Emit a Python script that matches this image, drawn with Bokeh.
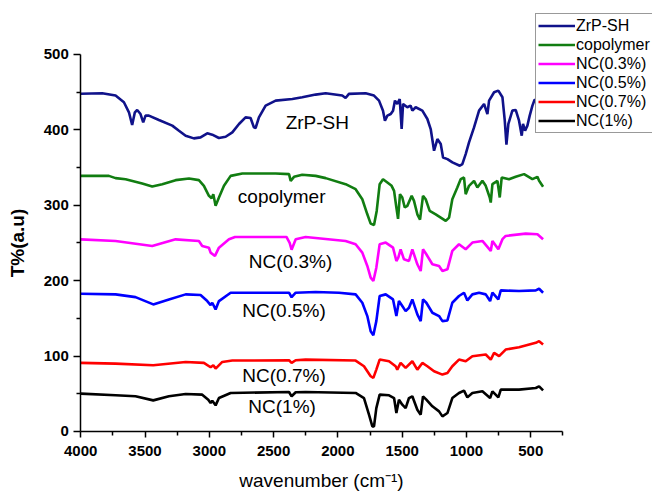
from bokeh.plotting import figure
from bokeh.models import Range1d, FixedTicker, Legend, LegendItem, ColumnDataSource
from bokeh.core.properties import value
from bokeh.embed import file_html
from bokeh.resources import INLINE

# ---------------- data ----------------
zrp_x = [4000, 3833, 3729, 3664, 3625, 3600, 3579, 3561, 3535, 3514, 3496, 3470, 3392, 3288, 3236,
         3184, 3120, 3068, 3016, 2977, 2925, 2873, 2821, 2769, 2718, 2679, 2653, 2640, 2614, 2562,
         2484, 2354, 2277, 2173, 2095, 1966, 1940, 1914, 1784, 1719, 1680, 1649, 1634, 1615, 1589,
         1571, 1556, 1538, 1519, 1504, 1493, 1460, 1434, 1421, 1395, 1343, 1304, 1278, 1252, 1226,
         1200, 1182, 1148, 1109, 1052, 1032, 1006, 980, 941, 902, 863, 837, 824, 785, 752, 720, 702,
         689, 674, 643, 617, 591, 570, 560, 544, 526, 508, 487, 470, 440, 400]
zrp_y = [448, 448.6, 445.5, 436.6, 423.3, 406.4, 423.3, 426.4, 421, 410, 418.9, 418.9, 413.1, 405.6, 398.9,
         392.3, 388.7, 390, 395.4, 393.6, 389.2, 390.9, 396.7, 407.8, 416.6, 415.8, 403.3, 402.5, 416.6, 432.2,
         438.8, 441, 443.2, 446.8, 448.6, 445.5, 442.3, 447.7, 448.6, 445.5, 438.8, 425.5, 412.2, 418.9, 421,
         425.5, 438.8, 434.4, 441, 401.1, 434.4, 430, 432.2, 425.5, 430, 425.5, 414.4, 401.1, 372.3, 387.8,
         381.2, 363.4, 361.2, 356.8, 352.4, 354.6, 367.9, 383.4, 403.3, 425.5, 434.4, 421, 438.8, 449.9, 452.1, 443.2, 412.2,
         380.3, 407.8, 425.5, 426.4, 412.2, 392.3, 407.8, 398.9, 405.6, 418.9, 432.2, 440, 438, 430]

cop_x = [4000, 3781, 3729, 3651, 3522, 3444, 3366, 3262, 3158, 3081, 3042, 3003, 2982, 2969, 2951,
         2925, 2886, 2834, 2743, 2484, 2380, 2367, 2341, 2277, 2173, 2095, 1940, 1862, 1810, 1771,
         1745, 1719, 1698, 1675, 1649, 1615, 1582, 1563, 1545, 1532, 1517, 1499, 1480, 1460, 1426,
         1408, 1382, 1361, 1338, 1317, 1286, 1239, 1200, 1161, 1135, 1110, 1071, 1045, 1019, 1006,
         980, 941, 915, 876, 850, 819, 811, 798, 759, 741, 726, 669, 617, 552, 487, 448, 435, 404]
cop_y = [339, 339, 336, 334.6, 328.9, 324.9, 328, 333.3, 335.5, 333.3, 325.8, 312.5, 309.4, 314.7, 299.2,
         310.3, 325.8, 339, 342.2, 342.2, 341.3, 332.4, 337.7, 340.4, 339, 336, 328, 321.3, 308, 288,
         275.7, 273.9, 292.5, 328, 334.6, 330.2, 325.8, 319.1, 297, 282, 314.7, 310.3, 297, 299.2, 312.5,
         305.8, 288, 281, 312.5, 308, 292.5, 288, 283.7, 279.2, 283.7, 308, 323.5, 334.6, 336.8, 314.7,
         325.8, 332.4, 323.5, 332.4, 325.8, 310.3, 303.6, 328, 332.4, 310.3, 336.8, 334.6, 337.7, 341.3, 334.6, 337.7, 332.4, 324.5]

nc03_x = [4000, 3729, 3444, 3262, 3081, 3055, 3003, 2990, 2956, 2925, 2847, 2800, 2400, 2375, 2360,
          2328, 2251, 1940, 1862, 1810, 1771, 1745, 1724, 1701, 1675, 1628, 1571, 1545, 1530, 1512,
          1486, 1447, 1421, 1382, 1356, 1338, 1312, 1265, 1213, 1187, 1148, 1110, 1058, 1006, 954,
          876, 811, 798, 752, 720, 695, 539, 448, 404]
nc03_y = [254.8, 252.6, 246, 254.8, 252.6, 246, 243.7, 237.2, 232.8, 243.8, 255, 258, 258, 250, 241,
          255, 258, 252.6, 248.3, 237.2, 219.5, 204, 199.5, 217.2, 248.3, 250.5, 243.8, 226.1, 230.5, 241.6,
          228.3, 226.1, 241.6, 221.7, 212.8, 241.6, 235, 221.7, 219.5, 212.8, 215, 239.4, 248.3, 241.6, 250.5,
          252.7, 239.4, 252.7, 241.6, 255, 259.3, 262.4, 261.5, 254.8]

nc05_x = [4000, 3729, 3574, 3436, 3314, 3184, 3068, 3016, 2990, 2977, 2951, 2925, 2834, 2380, 2360,
          2328, 2173, 1991, 1862, 1810, 1771, 1745, 1724, 1701, 1675, 1628, 1571, 1545, 1525, 1499,
          1473, 1447, 1421, 1382, 1356, 1338, 1312, 1265, 1213, 1187, 1148, 1110, 1058, 1019, 993,
          954, 902, 850, 816, 798, 752, 733, 591, 461, 435, 404]
nc05_y = [182.7, 181.8, 178.2, 168.5, 175.1, 181.8, 180.9, 172.9, 167.6, 170.7, 161.8, 172.9, 184, 184, 178,
          184, 184.9, 184, 181.8, 170.7, 153, 133, 127.7, 146.3, 179.6, 181.8, 175.1, 153, 172.9, 166.3,
          159.6, 164, 175.1, 155.2, 146.3, 175.1, 170.7, 157.4, 153, 146.3, 147.2, 170.7, 179.6, 184, 173.8,
          181.8, 184, 181.8, 172.9, 184, 175.1, 187.1, 186.2, 187.1, 189.3, 184]

nc07_x = [4000, 3729, 3436, 3184, 3042, 2990, 2969, 2951, 2899, 2821, 2380, 2360, 2328, 2251, 1862,
          1797, 1745, 1724, 1701, 1675, 1602, 1551, 1538, 1512, 1473, 1421, 1382, 1343, 1304, 1252,
          1187, 1148, 1110, 1058, 1006, 954, 850, 811, 785, 746, 695, 591, 461, 435, 404]
nc07_y = [90.9, 90, 87.8, 92.2, 90.9, 85.1, 87.8, 83.4, 92.2, 94, 94.4, 90.9, 94.4, 95.3, 94,
          86.5, 73.2, 71, 82, 95.3, 93.1, 86.5, 82, 90.9, 84.2, 93.1, 82, 90.9, 86.5, 79.8,
          75.4, 77.6, 86.5, 95.3, 93.1, 99.8, 102, 95.3, 104.2, 99.8, 108.6, 111.7, 117.5, 119.7, 115.3]

nc1_x = [4000, 3729, 3574, 3436, 3314, 3184, 3055, 3008, 2990, 2977, 2951, 2925, 2834, 2380, 2360,
         2328, 2251, 1862, 1797, 1758, 1732, 1719, 1701, 1675, 1602, 1563, 1545, 1525, 1499, 1473,
         1447, 1421, 1382, 1356, 1338, 1312, 1265, 1213, 1187, 1148, 1110, 1058, 1019, 993, 954,
         876, 816, 798, 752, 733, 591, 461, 435, 404]
nc1_y = [50.1, 47.9, 46.6, 41.2, 46.6, 49.7, 48.8, 42.1, 37.7, 40.8, 34.6, 44.3, 51, 52.3, 46.6,
         51.9, 52.3, 51, 44.3, 22.2, 6.7, 6.7, 31, 48.8, 47.9, 44.3, 24.4, 42.1, 35.5, 31,
         44.3, 46.6, 28.8, 22.2, 46.6, 42.1, 33.3, 26.6, 20, 24.4, 44.3, 51, 54.1, 45.2, 51,
         53.2, 44.3, 53.2, 45.2, 55.4, 55.4, 57.6, 59.8, 54.5]

series_names = ["ZrP-SH", "copolymer", "NC(0.3%)", "NC(0.5%)", "NC(0.7%)", "NC(1%)"]
series_colors = ["#10128a", "#117d11", "#ff00ff", "#0000ff", "#ff0000", "#000000"]
series_x = [zrp_x, cop_x, nc03_x, nc05_x, nc07_x, nc1_x]
series_y = [zrp_y, cop_y, nc03_y, nc05_y, nc07_y, nc1_y]

label_text = ["ZrP-SH", "copolymer", "NC(0.3%)", "NC(0.5%)", "NC(0.7%)", "NC(1%)"]
label_x = [2160, 2437, 2368, 2419, 2419, 2434]
label_y = [410, 312, 225, 160, 74, 33]

x_major = [4000, 3500, 3000, 2500, 2000, 1500, 1000, 500]
x_minor = [3750, 3250, 2750, 2250, 1750, 1250, 750, 250]
y_major = [0, 100, 200, 300, 400, 500]
y_minor = [50, 150, 250, 350, 450]

FONT = "Liberation Sans"

# the frame spans the whole canvas; axes sit at fixed data positions so the
# legend may overlap the area above / right of the axes like in the reference
p = figure(width=652, height=492, output_backend="svg", toolbar_location=None,
           x_range=Range1d(4624, -447), y_range=Range1d(-81, 571.6),
           min_border_left=0, min_border_right=0, min_border_top=0, min_border_bottom=0)
p.outline_line_color = None
p.xgrid.grid_line_color = None
p.ygrid.grid_line_color = None
p.background_fill_color = "white"
p.border_fill_color = "white"

renderers = []
for xs, ys, c in zip(series_x, series_y, series_colors):
    r = p.line(xs, ys, line_color=c, line_width=2.6)
    renderers.append(r)

src = ColumnDataSource(dict(x=label_x, y=label_y, t=label_text))
p.text(x="x", y="y", text="t", source=src, text_align="center", text_baseline="middle",
       text_font=value(FONT), text_font_size="19px", text_color="black")

for ax, major, minor in ((p.xaxis[0], x_major, x_minor), (p.yaxis[0], y_major, y_minor)):
    ax.ticker = FixedTicker(ticks=major, minor_ticks=minor)
    ax.axis_line_width = 1.5
    ax.axis_line_color = "black"
    ax.major_tick_line_width = 1.5
    ax.minor_tick_line_width = 1.5
    ax.major_tick_line_color = "black"
    ax.minor_tick_line_color = "black"
    ax.major_tick_in = 0
    ax.minor_tick_in = 0
    ax.major_label_text_font = FONT
    ax.major_label_text_font_style = "bold"
    ax.major_label_text_font_size = "15px"
    ax.major_label_text_color = "black"
    ax.axis_label_text_font = FONT
    ax.axis_label_text_color = "black"
    ax.axis_label_text_font_size = "19px"

p.xaxis.fixed_location = 0
p.xaxis.bounds = (250, 4000)
p.xaxis.major_tick_out = 6
p.xaxis.minor_tick_out = 4
p.xaxis.major_label_standoff = 9
p.xaxis.axis_label = "wavenumber (cm\u207b\u00b9)"
p.xaxis.axis_label_text_font_style = "normal"
p.xaxis.axis_label_standoff = 10

p.yaxis.fixed_location = 4000
p.yaxis.bounds = (0, 500)
p.yaxis.major_tick_out = 7
p.yaxis.minor_tick_out = 4
p.yaxis.major_label_standoff = 5
p.yaxis.axis_label = "T%(a.u)"
p.yaxis.axis_label_text_font_style = "bold"
p.yaxis.axis_label_standoff = 12

legend = Legend(items=[LegendItem(label=n, renderers=[r]) for n, r in zip(series_names, renderers)],
                location=(535, 359),
                label_text_font=FONT, label_text_font_size="16px", label_text_color="black",
                glyph_width=37, glyph_height=19, label_height=19, spacing=0, padding=2, margin=0,
                label_standoff=1, border_line_color="#333333", border_line_width=1,
                background_fill_color="white", background_fill_alpha=1.0)
p.add_layout(legend, "center")

open("out.html", "w").write(file_html(p, INLINE))
